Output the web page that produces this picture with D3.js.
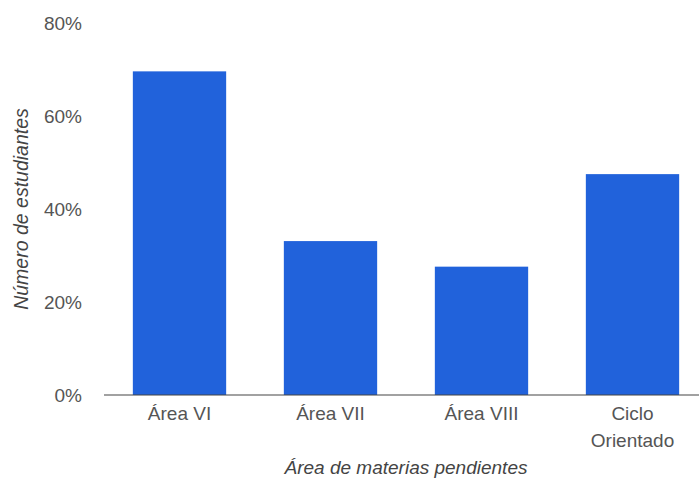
<!DOCTYPE html>
<html>
<head>
<meta charset="utf-8">
<script src="https://cdn.jsdelivr.net/npm/d3@7"></script>
<style>
  html, body { margin: 0; padding: 0; background: #fff; }
  svg { display: block; font-family: Arial, "Liberation Sans", sans-serif; }
</style>
</head>
<body>
<svg id="chart" width="699" height="483"></svg>
<script>
const categories = ["Área VI", "Área VII", "Área VIII", "Ciclo Orientado"];
const values = [69.6, 33.1, 27.6, 47.5];
const yTicks = [0, 20, 40, 60, 80];
const xTitle = "Área de materias pendientes";
const yTitle = "Número de estudiantes";

const svg = d3.select("#chart");
const plotLeft = 104, plotRight = 708, plotTop = 23, plotBottom = 395;

const x = d3.scaleBand().domain(categories).range([plotLeft, plotRight])
  .paddingInner(0.382).paddingOuter(0.191);
const y = d3.scaleLinear().domain([0, 80]).range([plotBottom, plotTop]);

// bars
svg.append("g").selectAll("rect").data(categories).join("rect")
  .attr("x", d => x(d))
  .attr("y", (d, i) => y(values[i]))
  .attr("width", x.bandwidth())
  .attr("height", (d, i) => y(0) - y(values[i]))
  .attr("fill", "#2162db");

// baseline
svg.append("line")
  .attr("x1", plotLeft).attr("x2", 699)
  .attr("y1", y(0)).attr("y2", y(0))
  .attr("stroke", "#444").attr("stroke-width", 1.2);

// y axis labels
const yAxis = d3.axisLeft(y).tickValues(yTicks).tickFormat(d => d + "%").tickSize(0).tickPadding(0);
const ga = svg.append("g").attr("transform", "translate(82,0)").call(yAxis);
ga.select(".domain").remove();
ga.selectAll("text").attr("font-size", 19).attr("fill", "#555")
  .attr("font-family", "Arial, 'Liberation Sans', sans-serif");

// x axis labels (wrapped)
const xAxis = d3.axisBottom(x).tickSize(0).tickFormat("");
const gx = svg.append("g").attr("transform", `translate(0,${plotBottom})`).call(xAxis);
gx.select(".domain").remove();
gx.selectAll(".tick").each(function(d) {
  const words = d === "Ciclo Orientado" ? ["Ciclo", "Orientado"] : [d];
  const t = d3.select(this).append("text")
    .attr("fill", "#555").attr("font-size", 19)
    .attr("font-family", "Arial, 'Liberation Sans', sans-serif")
    .attr("text-anchor", "middle");
  words.forEach((w, i) => {
    t.append("tspan").attr("x", 0).attr("y", 25 + i * 27).text(w);
  });
});

// axis titles
svg.append("text")
  .attr("x", (plotLeft + plotRight) / 2).attr("y", 474)
  .attr("text-anchor", "middle")
  .attr("font-size", 19).attr("font-style", "italic").attr("fill", "#444")
  .text(xTitle);

svg.append("text")
  .attr("transform", `translate(28,${(plotTop + plotBottom) / 2}) rotate(-90)`)
  .attr("text-anchor", "middle")
  .attr("font-size", 19.5).attr("font-style", "italic").attr("fill", "#444")
  .text(yTitle);
</script>
</body>
</html>
